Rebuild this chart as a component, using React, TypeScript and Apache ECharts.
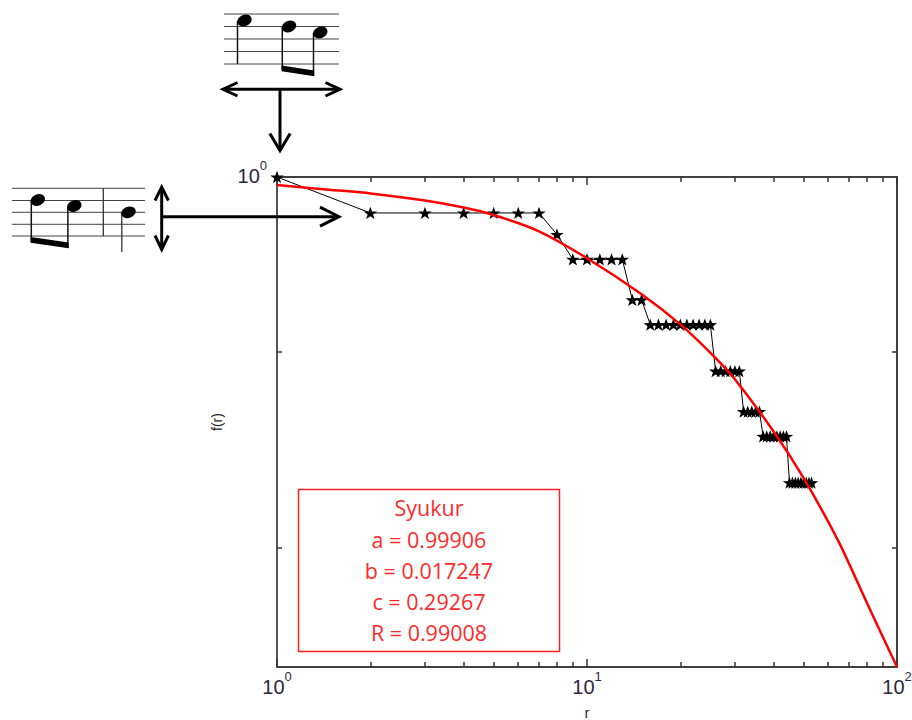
import React, { useEffect, useRef } from 'react';
import * as echarts from 'echarts';

// Observed rank-frequency data (black stars)
const ranks = [
  1, 2, 3, 4, 5, 6, 7, 8, 9, 10, 11, 12, 13, 14, 15, 16, 17, 18, 19, 20,
  21, 22, 23, 24, 25, 26, 27, 28, 29, 30, 31, 32, 33, 34, 35, 36, 37, 38, 39, 40,
  41, 42, 43, 44, 45, 46, 47, 48, 49, 50, 51, 52, 53,
];
const freqs = [
  1,
  0.8, 0.8, 0.8, 0.8, 0.8, 0.8,
  0.7,
  0.6, 0.6, 0.6, 0.6, 0.6,
  0.4667, 0.4667,
  0.4, 0.4, 0.4, 0.4, 0.4, 0.4, 0.4, 0.4, 0.4, 0.4,
  0.3, 0.3, 0.3, 0.3, 0.3, 0.3,
  0.2333, 0.2333, 0.2333, 0.2333, 0.2333,
  0.2, 0.2, 0.2, 0.2, 0.2, 0.2, 0.2, 0.2,
  0.15, 0.15, 0.15, 0.15, 0.15, 0.15, 0.15, 0.15, 0.15,
];

// Fitted Syukur curve (red)
const fitR = [1, 1.5, 2, 3, 4, 5, 7, 10, 15, 20, 26, 30, 40, 50, 65, 80, 100];
const fitF = [
  0.9516, 0.9231, 0.9033, 0.8643, 0.8277, 0.79, 0.7141, 0.6042, 0.4831, 0.4006,
  0.3252, 0.2851, 0.2062, 0.1543, 0.1036, 0.0711, 0.0478,
];

// Axis ticks
const xMajor = [1, 10, 100];
const xMinor = [2, 3, 4, 5, 6, 7, 8, 9, 20, 30, 40, 50, 60, 70, 80, 90];
const yTicks = [0.3375, 0.1];
const yLabelValues = [1];
const yMin = 0.0478;
const yMax = 1;

// Legend text
const legendLines = ['Syukur', 'a = 0.99906', 'b = 0.017247', 'c = 0.29267', 'R = 0.99008'];

const STAR =
  'path://M0,-10 L2.35,-3.24 L9.51,-3.09 L3.8,1.24 L5.88,8.09 L0,4 L-5.88,8.09 L-3.8,1.24 L-9.51,-3.09 L-2.35,-3.24 Z';

const FONT = 'Liberation Sans';
const AXIS_COLOR = '#404040';

const powRich = {
  b: { fontSize: 20, lineHeight: 20, padding: [7, 0, 0, 0], color: '#2e2640', fontFamily: FONT },
  s: { fontSize: 13, lineHeight: 13, padding: [0, 0, 14, 0], color: '#2e2640', fontFamily: FONT },
};
const powFormatter = (v: number) => `{b|10}{s|${Math.round(Math.log10(v))}}`;

function line(x1: number, y1: number, x2: number, y2: number, w = 1, c = '#444') {
  return { type: 'line', z: 100, shape: { x1, y1, x2, y2 }, style: { stroke: c, lineWidth: w } };
}
function poly(points: number[][], w = 3) {
  return { type: 'polyline', z: 100, shape: { points }, style: { stroke: '#000', lineWidth: w, fill: null } };
}
function head(x: number, y: number) {
  return {
    type: 'ellipse', z: 100, x, y, rotation: 0.38,
    shape: { cx: 0, cy: 0, rx: 7.4, ry: 5.6 }, style: { fill: '#000' },
  };
}
function beam(points: number[][]) {
  return { type: 'polygon', z: 100, shape: { points }, style: { fill: '#000' } };
}

function buildGraphic() {
  const g: any[] = [];
  // top staff
  [14, 26.5, 39, 51.5, 64].forEach((y) => g.push(line(224, y, 339, y, 1, '#444')));
  g.push(line(237.5, 21, 237.5, 64, 1.5, '#111'));
  g.push(head(244.5, 20.5));
  g.push(line(282.3, 27, 282.3, 70, 1.5, '#111'));
  g.push(head(289, 26.5));
  g.push(line(313.5, 33, 313.5, 76, 1.5, '#111'));
  g.push(head(320.3, 32.5));
  g.push(beam([[281.6, 65.5], [314.2, 70.5], [314.2, 76.3], [281.6, 71.2]]));
  // top arrows
  g.push(line(224, 89.3, 339.5, 89.3, 3, '#000'));
  g.push(poly([[237.5, 82.5], [223, 89.3], [237.5, 96]]));
  g.push(poly([[325.5, 82.5], [340, 89.3], [325.5, 96]]));
  g.push(line(280, 89.3, 280, 149, 3, '#000'));
  g.push(poly([[269.8, 133.5], [280, 150.5], [290.2, 133.5]]));
  // left staff
  [188.3, 200.5, 212.3, 224.3, 236].forEach((y) => g.push(line(12, y, 145, y, 1, '#444')));
  g.push(line(103.3, 188.3, 103.3, 236, 1.3, '#333'));
  g.push(line(31.3, 200, 31.3, 242, 1.5, '#111'));
  g.push(head(37.8, 200));
  g.push(line(67.9, 206, 67.9, 248, 1.5, '#111'));
  g.push(head(74.3, 206));
  g.push(beam([[30.6, 237], [68.6, 242.5], [68.6, 248.3], [30.6, 242.8]]));
  g.push(line(121.8, 212.5, 121.8, 252, 1.3, '#333'));
  g.push(head(128.5, 212.3));
  // left arrows
  g.push(line(161.7, 188, 161.7, 248, 3, '#000'));
  g.push(poly([[155, 200.5], [161.7, 187], [168.4, 200.5]]));
  g.push(poly([[155, 235.5], [161.7, 249.5], [168.4, 235.5]]));
  g.push(line(161.7, 216.7, 338, 216.7, 3, '#000'));
  g.push(poly([[320, 207.2], [339, 216.7], [320, 226.2]]));
  // legend box
  g.push({
    type: 'rect', z: 90, shape: { x: 298.5, y: 489.5, width: 261, height: 162 },
    style: { fill: '#fff', stroke: '#ff2020', lineWidth: 1.5 },
  });
  const ys = [507, 539, 570, 601, 632];
  legendLines.forEach((t, i) =>
    g.push({
      type: 'text', z: 91, x: 429, y: ys[i],
      style: {
        text: t, fill: '#ff2a2a', font: `21.5px "Open Sans"`,
        textAlign: 'center', textVerticalAlign: 'middle', align: 'center', verticalAlign: 'middle',
      },
    })
  );
  return g;
}

const xBase = {
  type: 'log', logBase: 10, min: 1, max: 100, gridIndex: 0,
  splitLine: { show: false }, minorTick: { show: false }, minorSplitLine: { show: false },
};
const yBase = {
  type: 'log', logBase: 10, min: yMin, max: yMax, gridIndex: 0,
  splitLine: { show: false }, minorTick: { show: false }, minorSplitLine: { show: false },
};

const option: any = {
  animation: false,
  backgroundColor: '#fff',
  textStyle: { fontFamily: FONT },
  grid: { left: 277, right: 15, top: 177, bottom: 53, containLabel: false, outerBoundsMode: 'none' },
  xAxis: [
    {
      ...xBase, position: 'bottom',
      axisLine: { show: true, lineStyle: { color: AXIS_COLOR, width: 2 } },
      axisTick: { show: true, inside: true, length: 8, customValues: xMajor, lineStyle: { color: '#333', width: 1.5 } },
      axisLabel: { show: true, customValues: xMajor, formatter: powFormatter, rich: powRich, margin: 6 },
      name: 'r', nameLocation: 'middle', nameGap: 38,
      nameTextStyle: { fontSize: 15, color: '#2a2a2a', fontFamily: FONT },
    },
    {
      ...xBase, position: 'bottom',
      axisLine: { show: false },
      axisTick: { show: true, inside: true, length: 5, customValues: xMinor, lineStyle: { color: '#333', width: 1.5 } },
      axisLabel: { show: false },
    },
    {
      ...xBase, position: 'top',
      axisLine: { show: true, lineStyle: { color: AXIS_COLOR, width: 2 } },
      axisTick: { show: true, inside: true, length: 8, customValues: xMajor, lineStyle: { color: '#333', width: 1.5 } },
      axisLabel: { show: false },
    },
    {
      ...xBase, position: 'top',
      axisLine: { show: false },
      axisTick: { show: true, inside: true, length: 5, customValues: xMinor, lineStyle: { color: '#333', width: 1.5 } },
      axisLabel: { show: false },
    },
  ],
  yAxis: [
    {
      ...yBase, position: 'left',
      axisLine: { show: true, lineStyle: { color: '#555', width: 2 } },
      axisTick: { show: true, inside: true, length: 5, customValues: yTicks, lineStyle: { color: '#333', width: 1.5 } },
      axisLabel: {
        show: true, customValues: yLabelValues, formatter: powFormatter, rich: powRich,
        margin: 10, padding: [0, 0, 9, 0],
      },
      name: 'f(r)', nameLocation: 'middle', nameGap: 53, nameRotate: 90,
      nameTextStyle: { fontSize: 14, color: '#2a2a2a', fontFamily: FONT },
    },
    {
      ...yBase, position: 'right',
      axisLine: { show: true, lineStyle: { color: AXIS_COLOR, width: 2 } },
      axisTick: { show: true, inside: true, length: 5, customValues: yTicks, lineStyle: { color: '#333', width: 1.5 } },
      axisLabel: { show: false },
    },
  ],
  series: [
    {
      type: 'line', xAxisIndex: 0, yAxisIndex: 0, z: 2,
      data: ranks.map((r, i) => [r, freqs[i]]),
      symbol: STAR, symbolSize: [13.5, 12.9], symbolKeepAspect: true, showSymbol: true,
      lineStyle: { color: '#000', width: 1 },
      itemStyle: { color: '#000', borderWidth: 0 },
      emphasis: { disabled: true },
    },
    {
      type: 'line', xAxisIndex: 0, yAxisIndex: 0, z: 3,
      data: fitR.map((r, i) => [r, fitF[i]]),
      symbol: 'none', smooth: 0.25,
      lineStyle: { color: '#ff0000', width: 2.5 },
      emphasis: { disabled: true },
    },
  ],
  graphic: buildGraphic(),
};

export default function App() {
  const ref = useRef<HTMLDivElement>(null);
  useEffect(() => {
    const chart = echarts.init(ref.current!, null, { renderer: 'svg' });
    chart.setOption(option);
    return () => chart.dispose();
  }, []);
  return (
    <div
      ref={ref}
      style={{ position: 'fixed', left: 0, top: 0, width: 912, height: 720, background: '#fff' }}
    />
  );
}
